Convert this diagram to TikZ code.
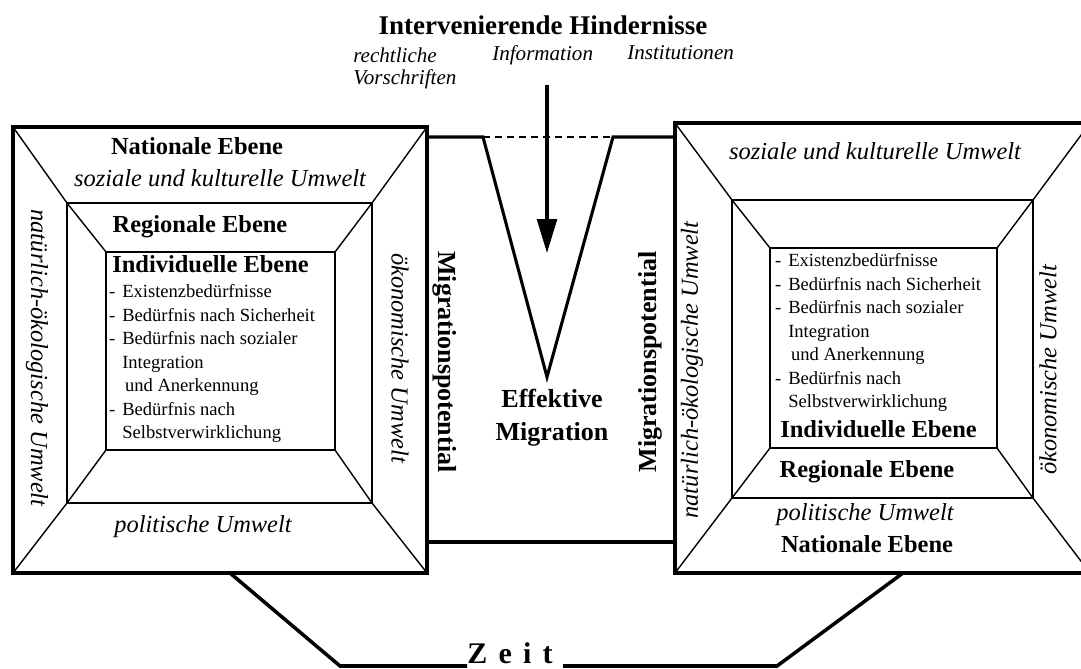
\documentclass[tikz,border=0pt]{standalone}
\usepackage{fontspec}
\setmainfont{Liberation Serif}
\usetikzlibrary{arrows.meta}

\newcommand{\ebene}{\fontsize{17.4}{20}\selectfont\bfseries}
\newcommand{\umwelt}{\fontsize{17.4}{20}\selectfont\itshape}
\newcommand{\hindernis}{\fontsize{15}{17}\selectfont\itshape}
\newcommand{\migfont}{\fontsize{18.5}{23.5}\selectfont\bfseries}
\newcommand{\beduerf}{\fontsize{13.2}{16}\selectfont}
\newcommand{\bul}{\llap{-\hspace{5pt}}}

\begin{document}
\begin{tikzpicture}[x=0.025cm,y=-0.025cm]
        \tikzstyle{every node} = [inner sep=0pt]
        \tikzstyle{frame} = [line width=2.2pt]
        \tikzstyle{rahmen} = [line width=1.3pt]
        \tikzstyle{diag} = [line width=1pt]
        \tikzstyle{link} = [line width=2.2pt]
        \useasboundingbox (0,0) rectangle (1081,669);
        \clip (0,0) rectangle (1081,669);

        % Herkunftsgebiet
        \draw[frame] (13,127) rectangle (427,573);
        \draw[rahmen] (67,203) rectangle (372,503);
        \draw[rahmen] (106,252) rectangle (335,450);
        \draw[diag] (13,127) -- (67,203) -- (106,252);
        \draw[diag] (427,127) -- (372,203) -- (335,252);
        \draw[diag] (13,573) -- (67,503) -- (106,450);
        \draw[diag] (427,573) -- (372,503) -- (335,450);

        % Zielgebiet
        \draw[frame] (675,123) rectangle (1090,573);
        \draw[rahmen] (732,200) rectangle (1033,498);
        \draw[rahmen] (770,248) rectangle (997,448);
        \draw[diag] (675,123) -- (732,200) -- (770,248);
        \draw[diag] (1090,123) -- (1033,200) -- (997,248);
        \draw[diag] (675,573) -- (732,498) -- (770,448);
        \draw[diag] (1090,573) -- (1033,498) -- (997,448);

        % Verbindung mit Trichter
        \coordinate (vl) at (483,137);
        \coordinate (vr) at (613,137);
        \coordinate (vt) at (547,377);
        \draw[link, line join=miter] (427,137) -- (vl) -- (vt) -- (vr) -- (675,137);
        \draw[line width=1.4pt, dash pattern=on 5pt off 3.5pt] (vl) -- (vr);
        \draw[link] (427,542) -- (675,542);

        \node[anchor=base] (titel) at (543,35)
            {\fontsize{19.2}{22}\selectfont\bfseries Intervenierende Hindernisse};
        \node[anchor=base west] (recht) at (353,63) {\hindernis rechtliche};
        \node[anchor=base west] (vorschr) at (353,85) {\hindernis Vorschriften};
        \node[anchor=base west] (info) at (492,61) {\hindernis Information};
        \node[anchor=base west] (inst) at (627,60) {\hindernis Institutionen};
        \coordinate (pfeil) at (547,85);
        \draw[line width=2.2pt, -{Triangle[length=24pt,width=14pt]}] (pfeil) -- (547,253);

        \node[rotate=-90] (pot1) at (445,362) {\migfont Migrationspotential};
        \node[rotate=90] (pot2) at (650,362) {\migfont Migrationspotential};
        \node[align=center, font=\migfont] (eff) at (552,418) {Effektive\\Migration};

        % Texte links
        \node[anchor=base] (nat1) at (197,155) {\ebene Nationale Ebene};
        \node[anchor=base] (soz1) at (220,187) {\umwelt soziale und kulturelle Umwelt};
        \node[anchor=base] (reg1) at (200,233) {\ebene Regionale Ebene};
        \node[anchor=base west] (ind1) at (112,273) {\ebene Individuelle Ebene};
        \node[anchor=base] (pol1) at (203,532) {\umwelt politische Umwelt};
        \node[rotate=-90] (oek1) at (37,358) {\umwelt natürlich-ökologische Umwelt};
        \node[rotate=-90] (wirt1) at (400,358) {\umwelt ökonomische Umwelt};

        % Texte rechts
        \node[anchor=base] (soz2) at (875,160) {\umwelt soziale und kulturelle Umwelt};
        \node[anchor=base west] (ind2) at (780,438) {\ebene Individuelle Ebene};
        \node[anchor=base] (reg2) at (867,478) {\ebene Regionale Ebene};
        \node[anchor=base] (pol2) at (865,521) {\umwelt politische Umwelt};
        \node[anchor=base] (nat2) at (867,553) {\ebene Nationale Ebene};
        \node[rotate=90] (oek2) at (692,370) {\umwelt natürlich-ökologische Umwelt};
        \node[rotate=90] (wirt2) at (1048,370) {\umwelt ökonomische Umwelt};

        % Beduerfnisse
        \foreach \bx/\by/\seite in {122/298/l, 788/267/r}
            \foreach \txt [count=\i] in {\bul Existenzbedürfnisse,
                \bul Bedürfnis nach Sicherheit, \bul Bedürfnis nach sozialer,
                Integration, \hspace{2pt}und Anerkennung, \bul Bedürfnis nach,
                Selbstverwirklichung}
                \node[anchor=base west] (\seite\i) at (\bx,{\by+23.5*(\i-1)}) {\beduerf\txt};

        % Zeitachse
        \node[anchor=base] (zeit) at (510,663)
            {\fontsize{21.3}{24}\selectfont\bfseries Z\hspace{8pt}e\hspace{8pt}i\hspace{8pt}t};
        \draw[line width=2.5pt] (230,573) -- (340,666) -- (467,666);
        \draw[line width=2.5pt] (563,666) -- (777,666) -- (903,573);
    \end{tikzpicture}
\end{document}
